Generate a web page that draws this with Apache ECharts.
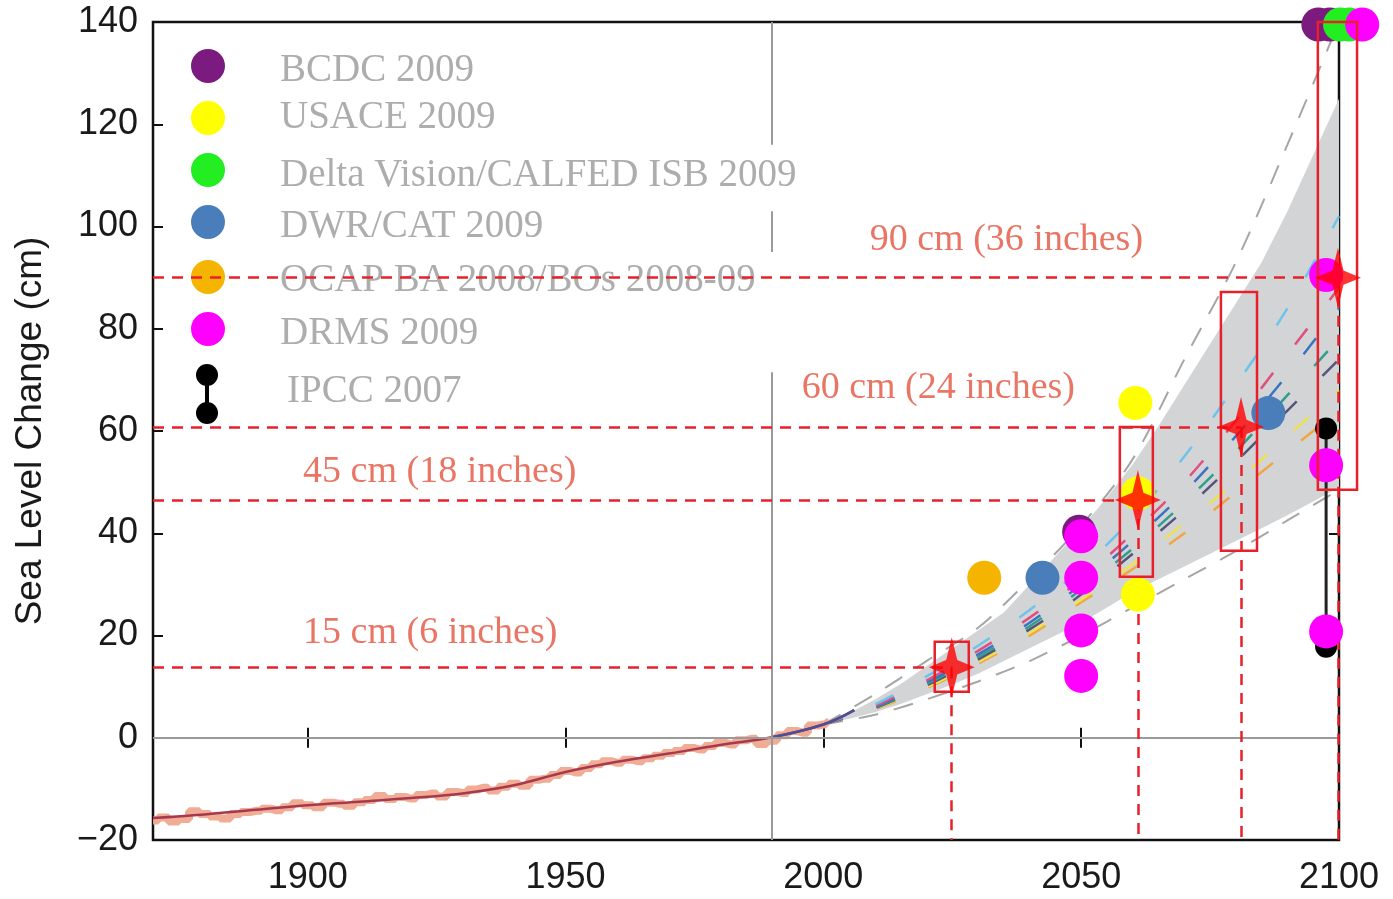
<!DOCTYPE html>
<html><head><meta charset="utf-8">
<script src="https://cdn.jsdelivr.net/npm/echarts@6/dist/echarts.min.js"></script>
<style>html,body{margin:0;padding:0;background:#fff}#c{width:1393px;height:899px}</style>
</head><body><div id="c"></div>
<script>
// ---------- DATA ----------
const xTicks = [1900, 1950, 2000, 2050, 2100];
const yTicks = [-20, 0, 20, 40, 60, 80, 100, 120, 140];

// observed tide-gauge record (cm)
const histYears = [1870,1872,1874,1876,1878,1880,1882,1884,1886,1888,1890,1892,1894,1896,1898,1900,1902,1904,1906,1908,1910,1912,1914,1916,1918,1920,1922,1924,1926,1928,1930,1932,1934,1936,1938,1940,1942,1944,1946,1948,1950,1952,1954,1956,1958,1960,1962,1964,1966,1968,1970,1972,1974,1976,1978,1980,1982,1984,1986,1988,1990,1992,1994,1996,1998,2000,2001];
const histObs = [-16.2,-15.6,-16.4,-15.9,-14.4,-14.9,-15.4,-15.8,-14.9,-14.5,-14.3,-13.9,-14.2,-13.6,-12.8,-13.2,-13.6,-12.7,-12.9,-13.3,-12.6,-12.2,-11.4,-12.0,-11.6,-11.9,-11.2,-10.9,-11.5,-10.6,-10.8,-10.1,-9.8,-10.3,-9.6,-9.0,-9.4,-8.2,-8.0,-7.3,-6.5,-6.8,-5.9,-5.2,-4.6,-4.9,-4.3,-4.6,-4.0,-3.5,-3.0,-2.6,-2.0,-2.3,-1.6,-1.0,-1.3,-0.5,-0.2,-1.2,-0.6,0.5,1.3,1.0,2.4,2.6,3.0];

// smoothed fit
const fitYears = [1870,1880,1890,1900,1910,1920,1930,1940,1950,1960,1970,1980,1990,2000,2006];
const fitVals  = [-15.7,-15.0,-14.1,-13.2,-12.5,-11.8,-10.9,-9.3,-6.7,-4.7,-3.1,-1.4,0.1,2.6,5.4];

// projection range (shaded band)
const bandYears = [2000,2005,2010,2015,2020,2025,2030,2035,2040,2045,2050,2055,2060,2065,2070,2075,2080,2085,2090,2095,2100];
const bandUpper = [2.6,4.8,7.5,10.5,14.0,17.5,21.0,24.5,30.0,35.5,41.0,47.0,53.5,61.0,69.0,77.0,85.0,93.0,103.0,114.0,125.0];
const bandLower = [2.6,3.7,5.0,6.6,8.5,10.4,12.5,15.0,17.5,20.0,22.5,25.5,28.5,31.0,33.5,36.0,38.5,41.0,43.5,46.2,49.0];

// dashed envelopes and model scenarios
const projYears  = [2000,2010,2020,2030,2040,2050,2060,2070,2080,2090,2100];
const dashUpper  = [2.6,8.5,15.0,21.5,31.0,41.5,54.5,74.0,93.0,116.0,140.0];
const dashLower  = [2.6,4.5,7.5,11.0,15.0,20.0,25.5,31.0,36.5,42.5,48.5];
const scenLightBlue = [2.6,6.5,12.0,18.0,25.0,33.0,43.0,55.0,69.0,84.0,102.0];
const scenPink      = [2.6,6.2,11.2,17.0,23.5,31.0,40.0,50.0,62.0,75.0,88.0];
const scenBlue      = [2.6,6.0,10.8,16.3,22.5,30.0,38.5,48.0,59.0,71.0,84.0];
const scenGreen     = [2.6,5.9,10.5,15.8,21.8,29.0,37.0,46.0,56.0,67.0,78.0];
const scenDark      = [2.6,5.8,10.2,15.3,21.2,28.0,36.0,44.5,54.0,64.0,74.0];
const scenYellow    = [2.6,5.7,9.9,14.8,20.5,27.0,34.0,42.0,50.0,59.0,68.0];
const scenOrange    = [2.6,5.6,9.7,14.5,20.0,26.5,33.0,40.0,48.0,56.0,64.0];

// planning targets
const targetYears  = [2024.9, 2061.0, 2081.0, 2099.8];
const targetLevels = [13.8, 46.5, 60.8, 90.0];
const targetLabels = ['15 cm (6 inches)', '45 cm (18 inches)', '60 cm (24 inches)', '90 cm (36 inches)'];
const labelYears   = [1899.1, 1899.1, 1995.8, 2009.0];
const labelLevels  = [20.5, 52.0, 68.4, 97.4];
const boxX0 = [2021.6, 2057.5, 2077.1, 2095.9];
const boxX1 = [2028.2, 2063.9, 2084.1, 2103.5];
const boxY0 = [9.0, 31.5, 36.6, 48.5];
const boxY1 = [18.8, 60.8, 87.2, 140.0];

// study estimates
const bcdc    = [[2096.0,139.5],[2098.2,139.5],[2049.6,40.3]];
const usace   = [[2060.5,65.5],[2061.0,47.8],[2061.0,28.0]];
const delta   = [[2100.2,139.5],[2102.0,139.5]];
const dwr     = [[2042.5,31.3],[2086.3,63.5]];
const ocap    = [[2031.2,31.3]];
const drms    = [[2050.0,39.4],[2050.0,31.3],[2050.0,21.0],[2050.0,12.1],[2097.5,90.5],[2097.5,53.3],[2097.5,20.8],[2104.5,139.5]];
const ipcc    = [[2097.5,17.8],[2097.5,60.5]];

const legendNames  = ['BCDC 2009','USACE 2009','Delta Vision/CALFED ISB 2009','DWR/CAT 2009','OCAP BA 2008/BOs 2008-09','DRMS 2009','IPCC 2007'];
const legendColors = ['#7B1A7F','#FFFF00','#22EE22','#4A7EBB','#F5B400','#FF00FF','#000000'];

// ---------- BUILD ----------
const zip = (xs, ys) => xs.map((x, i) => [x, ys[i]]);
const RED = '#E8202A';
const LBL = '#E4533D';

const markSeries = (name, lines, style, z) => ({
  type: 'scatter', name, data: [], clip: false, silent: true, z,
  markLine: { symbol: ['none','none'], silent: true, animation: false,
    label: { show: false }, lineStyle: style,
    data: lines.map(l => [{ coord: l[0] }, { coord: l[1] }]) }
});

const redLines = [];
targetYears.forEach((yr, i) => {
  redLines.push([[1870, targetLevels[i]], [yr, targetLevels[i]]]);
  redLines.push([[yr, targetLevels[i]], [yr, -20]]);
});

const scen = [
  [scenOrange,'#F2A541'],[scenYellow,'#EDE24F'],[scenDark,'#55557A'],
  [scenGreen,'#2E9E8E'],[scenBlue,'#3B73C2'],[scenPink,'#E0507F'],[scenLightBlue,'#6EC3EC']
];

const starPath = 'path://M50,0 L62,38 L100,50 L62,62 L50,100 L38,62 L0,50 L38,38 Z';

const dot = (name, data, color, size) => ({
  type: 'scatter', name, data, clip: false, symbolSize: size || 34, z: 6,
  itemStyle: { color, opacity: 1 }, silent: true
});

const series = [
  // reference lines (1990 and zero)
  markSeries('ref', [
    [[1990,-20],[1990,71.5]], [[1990,95],[1990,103]], [[1990,116],[1990,140]],
    [[1870,0],[2100,0]]
  ], { color: '#9A9A9A', width: 2, type: 'solid' }, 1),
  // shaded projection band
  { type: 'custom', name: 'band', data: [0], z: 2, silent: true, clip: true,
    renderItem: (params, api) => {
      const top = bandYears.map((y, i) => api.coord([y, bandUpper[i]]));
      const bot = bandYears.map((y, i) => api.coord([y, bandLower[i]])).reverse();
      return { type: 'polygon', shape: { points: top.concat(bot) }, style: { fill: '#D2D4D6' } };
    } },
  // dashed gray envelopes
  { type: 'line', name: 'dashUp', data: zip(projYears, dashUpper), symbol: 'none', smooth: 0.3, z: 3, silent: true,
    lineStyle: { color: '#A6A6A6', width: 2, type: [20, 16] } },
  { type: 'line', name: 'dashLow', data: zip(projYears, dashLower), symbol: 'none', smooth: 0.3, z: 3, silent: true,
    lineStyle: { color: '#A6A6A6', width: 2, type: [20, 16] } },
];
scen.forEach(([vals, col], i) => series.push({
  type: 'line', name: 'scen' + i, data: zip(projYears, vals), symbol: 'none', smooth: 0.3, z: 3, silent: true,
  lineStyle: { color: col, width: 2.5, type: [20, 36] }
}));
series.push(
  { type: 'line', name: 'obs', data: zip(histYears, histObs), symbol: 'none', step: 'middle', z: 4, silent: true,
    lineStyle: { color: '#EFA88F', width: 8, opacity: 0.95 } },
  { type: 'line', name: 'fit', data: zip(fitYears, fitVals), symbol: 'none', smooth: 0.4, z: 4, silent: true,
    lineStyle: { color: '#A8384E', width: 2.5 } },
  { type: 'line', name: 'fitEnd', data: zip(fitYears.slice(-3), fitVals.slice(-3)), symbol: 'none', smooth: 0.4, z: 4, silent: true,
    lineStyle: { color: '#4B4F9A', width: 2.5 } },
  // IPCC range
  { type: 'line', name: 'IPCC 2007', data: ipcc, symbol: 'circle', symbolSize: 22, z: 5, silent: true, clip: false,
    itemStyle: { color: '#000' }, lineStyle: { color: '#222', width: 3 } },
  dot('BCDC 2009', bcdc, legendColors[0]),
  dot('USACE 2009', usace, legendColors[1]),
  dot('Delta Vision/CALFED ISB 2009', delta, legendColors[2]),
  dot('DWR/CAT 2009', dwr, legendColors[3]),
  dot('OCAP BA 2008/BOs 2008-09', ocap, legendColors[4]),
  dot('DRMS 2009', drms, legendColors[5]),
  // red dashed target lines
  markSeries('targets', redLines, { color: RED, width: 2.5, type: [11, 8] }, 7),
  // red boxes
  { type: 'custom', name: 'boxes', data: boxX0.map((x, i) => [x, boxY0[i], boxX1[i], boxY1[i]]),
    z: 7, silent: true, clip: false,
    renderItem: (params, api) => {
      const p0 = api.coord([api.value(0), api.value(1)]);
      const p1 = api.coord([api.value(2), api.value(3)]);
      return { type: 'rect', shape: { x: p0[0], y: p1[1], width: p1[0] - p0[0], height: p0[1] - p1[1] },
        style: { fill: 'none', stroke: RED, lineWidth: 2.5 } };
    } },
  // stars
  { type: 'scatter', name: 'stars', data: zip(targetYears, targetLevels), symbol: starPath, symbolSize: [46, 60],
    clip: false, z: 8, silent: true, itemStyle: { color: '#FF0000' } },
  // labels
  { type: 'scatter', name: 'labels', data: labelYears.map((x, i) => [x, labelLevels[i], targetLabels[i]]),
    symbolSize: 0, clip: false, z: 9, silent: true,
    label: { show: true, position: 'right', distance: 0, formatter: p => p.data[2],
      fontFamily: 'Liberation Serif', fontSize: 38, color: LBL } }
);

// legend graphic
const legendDotY  = [66, 118, 170, 222, 277, 329];
const legendTextY = [73, 120, 178, 229, 283, 336, 394];
const graphic = [];
legendDotY.forEach((y, i) => graphic.push({ type: 'circle', left: 191, top: y - 17, z: 1,
  shape: { r: 17 }, style: { fill: legendColors[i] } }));
graphic.push({ type: 'line', z: 1, shape: { x1: 207, y1: 376, x2: 207, y2: 412 }, style: { stroke: '#000', lineWidth: 4 } });
graphic.push({ type: 'circle', left: 196, top: 364, z: 1, shape: { r: 11 }, style: { fill: '#000' } });
graphic.push({ type: 'circle', left: 196, top: 402, z: 1, shape: { r: 11 }, style: { fill: '#000' } });
legendNames.forEach((n, i) => graphic.push({ type: 'text', left: i === 6 ? 287 : 280, top: legendTextY[i] - 22, z: 1,
  style: { text: n, fontFamily: 'Liberation Serif', fontSize: 39, fill: '#ADADAD' } }));

const fmtY = v => v < 0 ? '\u2212' + (-v) : String(v);
const tickStyle = { show: true, inside: true, length: 10, lineStyle: { color: '#111', width: 2 } };

const option = {
  animation: false,
  backgroundColor: '#fff',
  grid: { left: 153, right: 54, top: 22, bottom: 59, show: true, borderColor: '#111', borderWidth: 2.5, backgroundColor: 'transparent' },
  xAxis: [
    { type: 'value', min: 1870, max: 2100, position: 'bottom',
      axisLine: { show: false }, splitLine: { show: false },
      axisTick: Object.assign({ customValues: xTicks }, tickStyle),
      axisLabel: { customValues: xTicks, formatter: v => String(v), margin: 20,
        fontFamily: 'Liberation Sans', fontSize: 36, color: '#1a1a1a' } },
    { type: 'value', min: 1870, max: 2100, position: 'top',
      axisLine: { show: false }, splitLine: { show: false },
      axisTick: Object.assign({ customValues: xTicks }, tickStyle), axisLabel: { show: false } }
  ],
  yAxis: [
    { type: 'value', min: -20, max: 140, interval: 20, position: 'left',
      name: 'Sea Level Change (cm)', nameLocation: 'middle', nameGap: 104,
      nameTextStyle: { fontFamily: 'Liberation Sans', fontSize: 37, color: '#1a1a1a' },
      axisLine: { show: false }, splitLine: { show: false }, axisTick: tickStyle,
      axisLabel: { margin: 15, formatter: fmtY, fontFamily: 'Liberation Sans', fontSize: 36, color: '#1a1a1a' } },
    { type: 'value', min: -20, max: 140, interval: 20, position: 'right',
      axisLine: { show: false }, splitLine: { show: false }, axisTick: tickStyle, axisLabel: { show: false } }
  ],
  graphic,
  series
};

echarts.init(document.getElementById('c')).setOption(option);
</script>
</body></html>
